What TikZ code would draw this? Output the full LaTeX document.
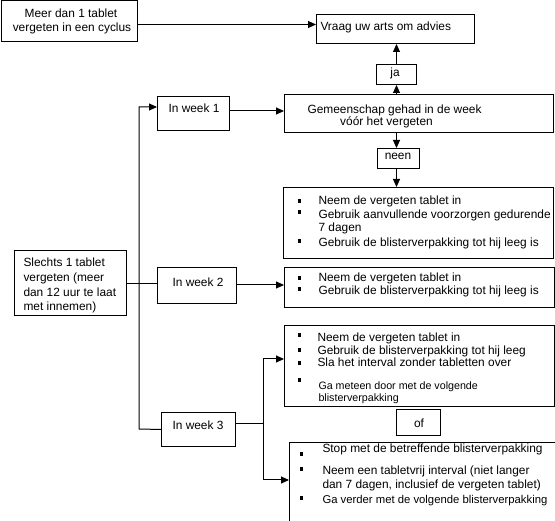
\documentclass[tikz,border=0pt]{standalone}
\usepackage{fontspec}
\setmainfont{Liberation Sans}
\usetikzlibrary{arrows.meta}
\begin{document}
\begin{tikzpicture}[x=1pt,y=-1pt,line width=1pt,
  box/.style={draw,line width=1pt,inner sep=0pt,anchor=north west},
  txt/.style={inner sep=0pt,anchor=base west,font=\fontsize{11.9}{13}\selectfont},
  ctxt/.style={txt,anchor=base},
  small/.style={txt,font=\fontsize{10.7}{12}\selectfont},
  arr/.style={-{Triangle[length=8pt,width=7pt]}},
  bullet/.style={fill=black}]
\useasboundingbox (0,0) rectangle (555,521);
% boxes
\node[box,minimum width=136pt,minimum height=40.5pt] (meer) at (1,0.5) {};
\node[box,minimum width=158pt,minimum height=29pt] (vraag) at (316,14) {};
\node[box,minimum width=40pt,minimum height=20pt] (ja) at (376,64) {};
\node[box,minimum width=269pt,minimum height=38pt] (gem) at (284,94) {};
\node[box,minimum width=42pt,minimum height=20pt] (neen) at (377,148) {};
\node[box,minimum width=270pt,minimum height=71pt] (c1) at (283,187) {};
\node[box,minimum width=270pt,minimum height=40pt] (c2) at (284,267) {};
\node[box,minimum width=270pt,minimum height=81pt] (c3a) at (284,325) {};
\node[box,minimum width=44pt,minimum height=26pt] (of) at (396,409) {};
\node[box,draw=none,minimum width=265pt,minimum height=100pt] (c3b) at (289,443) {};
\draw (c3b.south west) -- (c3b.north west) -- (c3b.north east) -- ++(0,13);
\node[box,minimum width=72pt,minimum height=34pt] (w1) at (157,96) {};
\node[box,minimum width=79pt,minimum height=36pt] (w2) at (157,267) {};
\node[box,minimum width=74pt,minimum height=34pt] (w3) at (161,412) {};
\node[box,minimum width=112pt,minimum height=65pt] (sl) at (14,250) {};
% texts
\node[ctxt] (t1) at (71,18) {Meer dan 1 tablet};
\node[ctxt] (t2) at (72,32) {vergeten in een cyclus};
\node[txt] (t3) at (320,30.5) {Vraag uw arts om advies};
\node[ctxt] (t4) at (395,77) {ja};
\node[ctxt] (t5) at (394.5,114) {Gemeenschap gehad in de week};
\node[ctxt] (t6) at (386.5,126) {vóór het vergeten};
\node[ctxt] (t7) at (398,160) {neen};
\node[txt] (t8) at (318,205) {Neem de vergeten tablet in};
\node[txt] (t9) at (318,219) {Gebruik aanvullende voorzorgen gedurende};
\node[txt] (t10) at (318,232) {7 dagen};
\node[txt] (t11) at (318,247) {Gebruik de blisterverpakking tot hij leeg is};
\node[txt] (t12) at (318,282) {Neem de vergeten tablet in};
\node[txt] (t13) at (318,295) {Gebruik de blisterverpakking tot hij leeg is};
\node[txt] (t14) at (317,341.5) {Neem de vergeten tablet in};
\node[txt] (t15) at (317,355) {Gebruik de blisterverpakking tot hij leeg};
\node[txt] (t16) at (317,367) {Sla het interval zonder tabletten over};
\node[small] (t17) at (318,390) {Ga meteen door met de volgende};
\node[small] (t18) at (318,402) {blisterverpakking};
\node[ctxt] (t19) at (419,428) {of};
\node[txt] (t20) at (322,452.5) {Stop met de betreffende blisterverpakking};
\node[txt] (t21) at (322,475) {Neem een tabletvrij interval (niet langer};
\node[txt] (t22) at (322,489) {dan 7 dagen, inclusief de vergeten tablet)};
\node[txt,font=\fontsize{11.3}{13}\selectfont] (t23) at (322,504) {Ga verder met de volgende blisterverpakking};
\node[ctxt] (t24) at (194,113) {In week 1};
\node[ctxt] (t25) at (198,287) {In week 2};
\node[ctxt] (t26) at (198,430) {In week 3};
\node[txt] (t27) at (23,267) {Slechts 1 tablet};
\node[txt] (t28) at (23,282) {vergeten (meer};
\node[txt] (t29) at (23,296.5) {dan 12 uur te laat};
\node[txt] (t30) at (23,311) {met innemen)};
% bullets
\foreach \bx/\by in {299/200.7,299/211.7,299/240.7,299/278,299/289,299/335,299/350,299/362.7,299/380,301/454,301/468.7,301/498}
  \fill[bullet] (\bx-1.5,\by-2) rectangle (\bx+1.5,\by+2);
% connectors
\draw[arr] (meer.east |- 0,24.5) -- (vraag.west |- 0,24.5);
\draw[arr] (gem.north -| 396.5,0) -- (ja.south -| 396.5,0);
\draw[arr] (ja.north -| 396.5,0) -- (vraag.south -| 396.5,0);
\draw[arr] (gem.south -| 396.5,0) -- (neen.north -| 396.5,0);
\draw[arr] (neen.south -| 396.5,0) -- (c1.north -| 396.5,0);
\draw (sl.east |- 0,284) -- (w2.west |- 0,284);
\draw[arr] (w3.west) -- (139,429) -- (139,107) -- (w1.west |- 0,107);
\draw[arr] (w1.east |- 0,111) -- (gem.west |- 0,111);
\draw[arr] (w2.east |- 0,285) -- (c2.west |- 0,285);
\coordinate (split) at (263,424);
\draw (w3.east |- split) -- (split);
\draw[arr] (split) -- (263,359) -- (c3a.west |- 0,359);
\draw[arr] (split) -- (263,480) -- (c3b.west |- 0,480);
\end{tikzpicture}
\end{document}
